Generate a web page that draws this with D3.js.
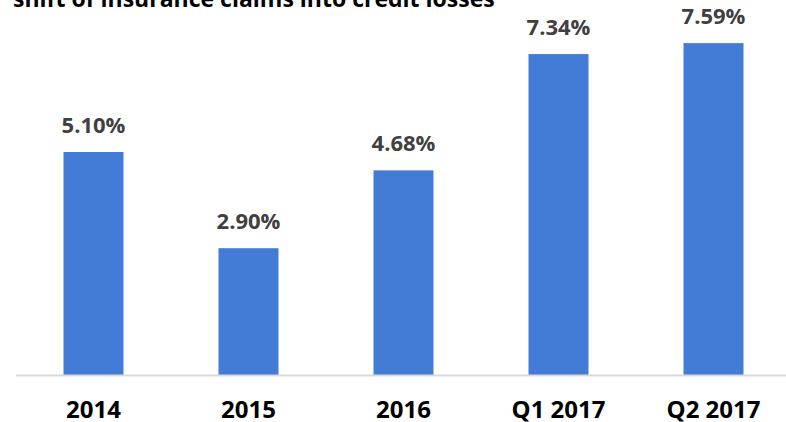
<!DOCTYPE html>
<html>
<head>
<meta charset="utf-8">
<script src="https://cdn.jsdelivr.net/npm/d3@7"></script>
<style>
  html, body { margin: 0; padding: 0; background: #fff; }
  svg { display: block; }
</style>
</head>
<body>
<script>
// data
const categories = ["2014", "2015", "2016", "Q1 2017", "Q2 2017"];
const values = [5.10, 2.90, 4.68, 7.34, 7.59];
const labels = ["5.10%", "2.90%", "4.68%", "7.34%", "7.59%"];
const title = "shift of insurance claims into credit losses";

const width = 786, height = 422;
const font = "'Open Sans', 'Liberation Sans', sans-serif";

const svg = d3.select("body").append("svg")
    .attr("width", width)
    .attr("height", height);

const x = d3.scaleBand()
    .domain(categories)
    .range([16, 791])
    .paddingInner(0.613)
    .paddingOuter(0.3065);

const y = d3.scaleLinear()
    .domain([0, 8])
    .range([375, 25.2]);

// title, cut off at the top like the original
const t = svg.append("text")
    .attr("x", 13)
    .attr("y", 7)
    .attr("font-family", font)
    .attr("font-weight", "bold")
    .attr("font-size", 20)
    .attr("fill", "#000")
    .text(title);
// fit to the width seen in the picture
const w = t.node().getComputedTextLength();
t.attr("font-size", 20 * 482 / w);

// bars
svg.selectAll("rect.bar")
    .data(values)
    .join("rect")
    .attr("class", "bar")
    .attr("x", (d, i) => x(categories[i]))
    .attr("y", d => y(d))
    .attr("width", x.bandwidth())
    .attr("height", d => y(0) - y(d))
    .attr("fill", "#427cd6");

// baseline
svg.append("line")
    .attr("x1", 16)
    .attr("x2", width)
    .attr("y1", y(0) + 0.5)
    .attr("y2", y(0) + 0.5)
    .attr("stroke", "#d9d9d9")
    .attr("stroke-width", 2);

// value labels
svg.selectAll("text.val")
    .data(values)
    .join("text")
    .attr("class", "val")
    .attr("x", (d, i) => x(categories[i]) + x.bandwidth() / 2)
    .attr("y", d => y(d) - 19.5)
    .attr("text-anchor", "middle")
    .attr("font-family", font)
    .attr("font-weight", "bold")
    .attr("font-size", 22)
    .attr("fill", "#404040")
    .text((d, i) => labels[i]);

// category labels
const xAxis = svg.append("g")
    .attr("transform", `translate(0,${y(0)})`)
    .call(d3.axisBottom(x).tickSize(0).tickPadding(0));
xAxis.select(".domain").remove();
xAxis.selectAll("text")
    .attr("y", 43)
    .attr("dy", null)
    .attr("font-family", font)
    .attr("font-weight", "bold")
    .attr("font-size", 24)
    .attr("fill", "#000");
</script>
</body>
</html>
